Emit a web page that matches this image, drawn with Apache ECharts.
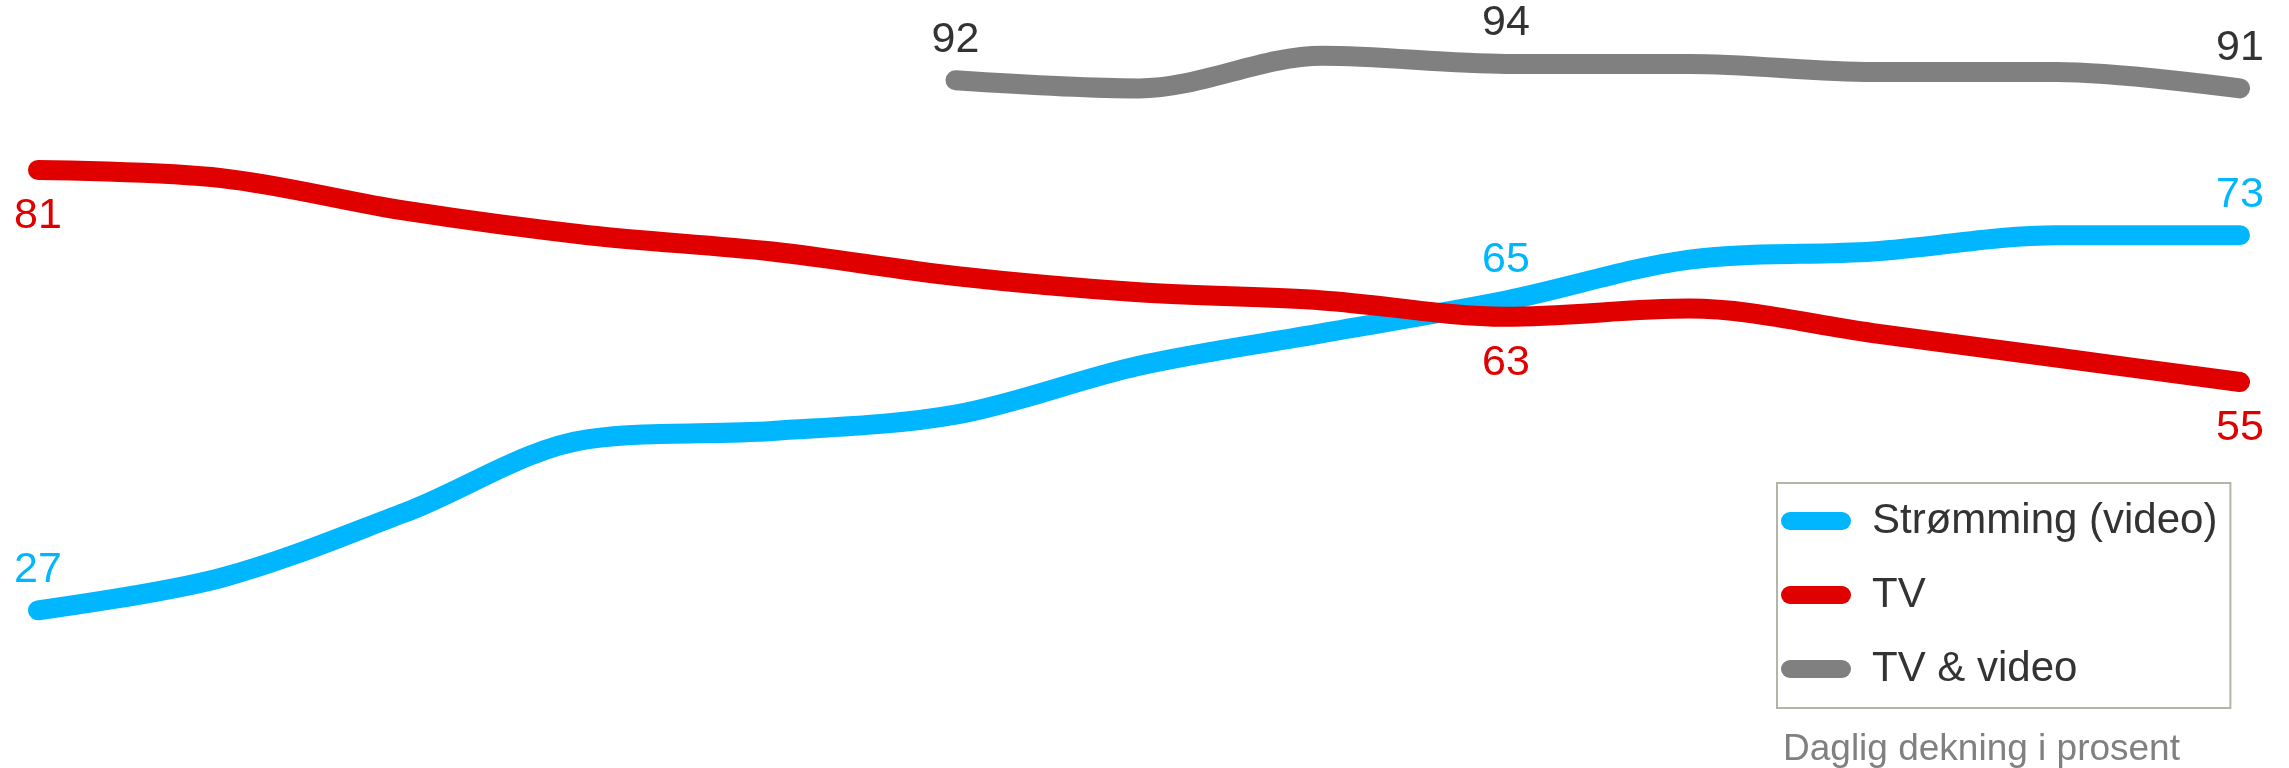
<!DOCTYPE html>
<html>
<head>
<meta charset="utf-8">
<script src="https://cdn.jsdelivr.net/npm/echarts@6/dist/echarts.min.js"></script>
<style>
  html, body { margin: 0; padding: 0; background: #ffffff; }
  #chart { width: 2289px; height: 768px; }
</style>
</head>
<body>
<div id="chart"></div>
<script>
// Periods along the (hidden) time axis
const periods = ['2011', '2012', '2013', '2014', '2015', '2016', '2017',
                 '2018', '2019', '2020', '2021', '2022', '2023'];

// Daily reach in percent
const streaming = [27, 31, 39, 48, 49, 51, 57, 61, 65, 70, 71, 73, 73];
const tv        = [81, 80, 76, 73, 71, 68, 66, 65, 63, 64, 61, 58, 55];
const tvVideo   = [null, null, null, null, null, 92, 91, 95, 94, 94, 93, 93, 91];

// Which points carry a value label
const streamingLabels = [0, 8, 12];
const tvLabels        = [0, 8, 12];
const tvVideoLabels   = [5, 8, 12];

const seriesNames = ['Strømming (video)', 'TV', 'TV & video'];
const footnote = 'Daglig dekning i prosent';

const FONT = '"Liberation Sans", Arial, sans-serif';

function withLabels(values, labelIdx, color, position) {
  return values.map((v, i) => {
    if (v === null) return null;
    return {
      value: v,
      label: {
        show: labelIdx.indexOf(i) !== -1,
        position: position,
        distance: position === 'top' ? 19 : 25,
        color: color,
        fontSize: 43,
        fontFamily: FONT
      }
    };
  });
}

function lineSeries(name, values, labelIdx, color, labelColor, position) {
  return {
    name: name,
    type: 'line',
    smooth: 0.33,
    symbol: 'circle',
    symbolSize: 0,
    showSymbol: true,
    color: color,
    lineStyle: { width: 20, color: color, cap: 'round', join: 'round' },
    emphasis: { disabled: true },
    data: withLabels(values, labelIdx, labelColor, position)
  };
}

const pill = 'path://M9,0 L61,0 A9,9 0 0 1 61,18 L9,18 A9,9 0 0 1 9,0 Z';

const chart = echarts.init(document.getElementById('chart'), null, { renderer: 'canvas' });
chart.setOption({
  animation: false,
  backgroundColor: '#ffffff',
  grid: { left: 38, right: 49, top: 15, bottom: 19, containLabel: false },
  xAxis: {
    type: 'category',
    data: periods,
    boundaryGap: false,
    show: false
  },
  yAxis: {
    type: 'value',
    min: 10,
    max: 100,
    show: false
  },
  legend: {
    orient: 'vertical',
    left: 1777,
    top: 483,
    padding: [17, 13, 18, 4],
    itemGap: 32,
    itemWidth: 70,
    itemHeight: 18,
    icon: pill,
    borderColor: '#B3B5A6',
    borderWidth: 2,
    data: seriesNames,
    textStyle: {
      fontSize: 42,
      fontFamily: FONT,
      color: '#333333',
      padding: [0, 0, 0, 16]
    }
  },
  graphic: [{
    type: 'text',
    left: 1783,
    top: 731,
    style: {
      text: footnote,
      fontSize: 37,
      fontFamily: FONT,
      fill: '#808080'
    }
  }],
  series: [
    lineSeries(seriesNames[0], streaming, streamingLabels, '#00B6FE', '#00B6FE', 'top'),
    lineSeries(seriesNames[1], tv, tvLabels, '#E00000', '#E00000', 'bottom'),
    lineSeries(seriesNames[2], tvVideo, tvVideoLabels, '#808080', '#333333', 'top')
  ]
});
</script>
</body>
</html>
